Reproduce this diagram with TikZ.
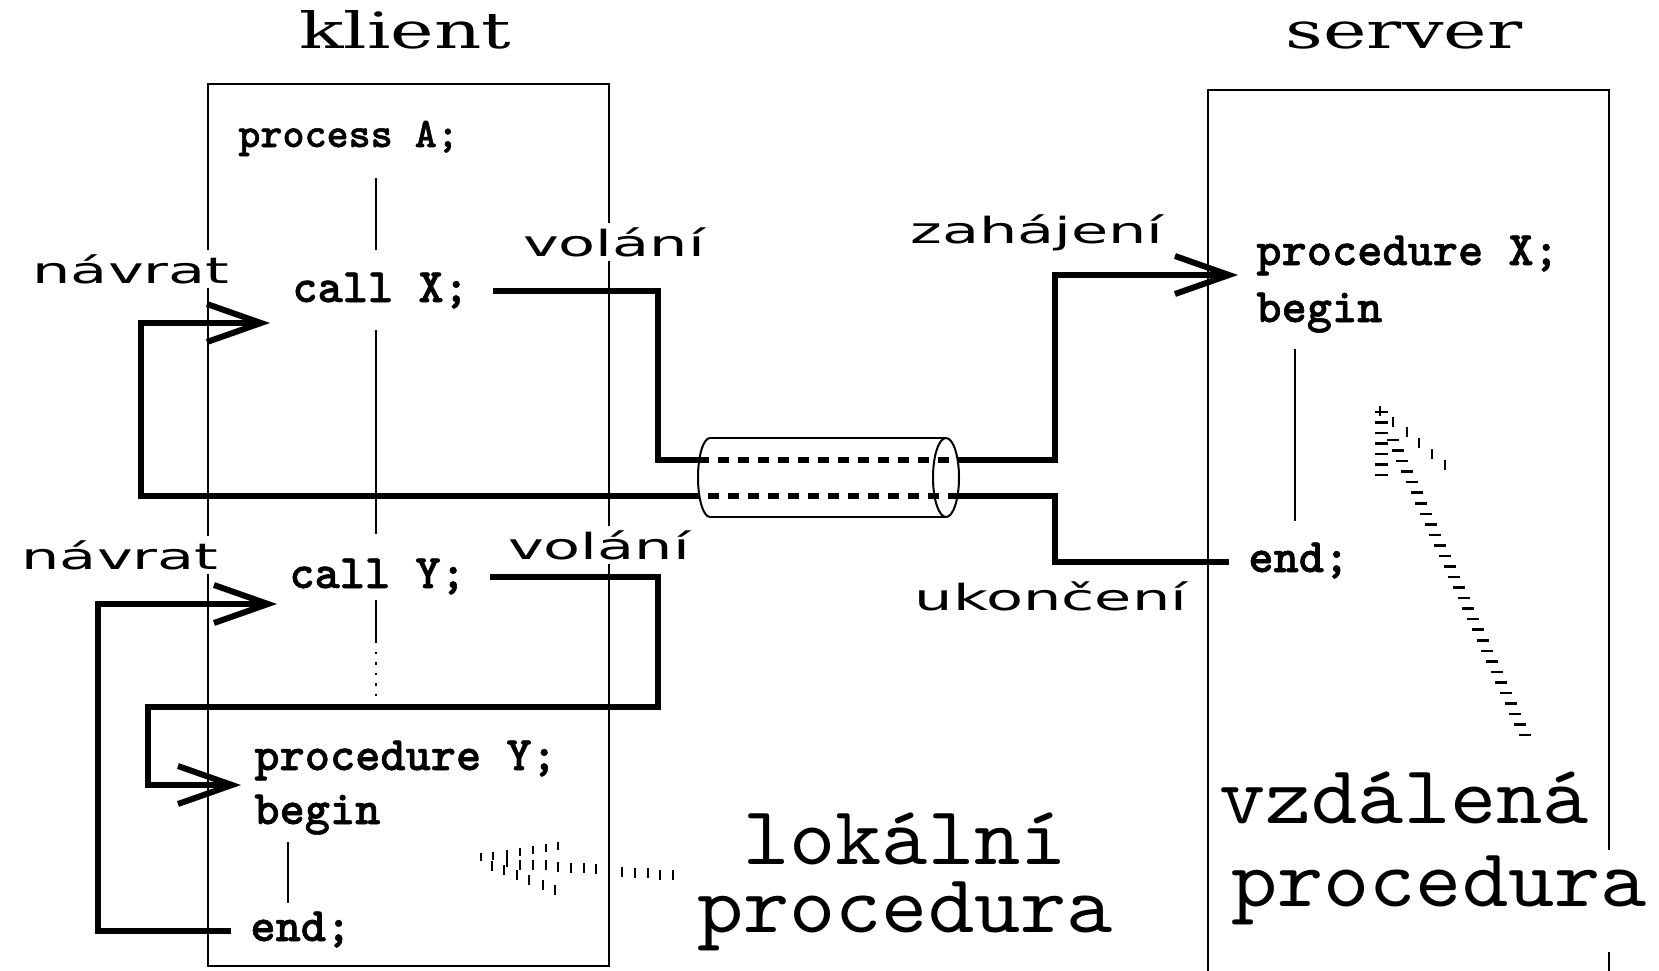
\documentclass[tikz,border=0pt]{standalone}
\usepackage{fontspec}
\usetikzlibrary{arrows.meta}
\newfontfamily\codefont{lmmonolt10-bold.otf}[FakeBold=1.2]
\newfontfamily\bigfont{lmmono10-regular.otf}[FakeStretch=1.06]
\newfontfamily\labfont{DejaVu Sans}[FakeStretch=1.68]
\newfontfamily\titlefont{DejaVu Serif}[FakeStretch=1.47]
\tikzset{
  boxline/.style={line width=1.2pt},
  thinline/.style={line width=1pt},
  flow/.style={line width=3pt, line cap=butt, line join=miter},
  flowarrow/.style={flow, -{Straight Barb[length=27pt,width=19pt]}},
  tube/.style={line width=2.6pt, dash pattern=on 5.5pt off 4.5pt},
  code/.style={font=\codefont\fontsize{24}{26}\selectfont, inner sep=0pt, anchor=base west},
  lab/.style={font=\labfont\fontsize{18}{20}\selectfont, fill=white, inner sep=2pt, anchor=base},
  titletext/.style={font=\titlefont\fontsize{25}{28}\selectfont, inner sep=0pt, anchor=base},
  bigtext/.style={font=\bigfont\fontsize{41.5}{34}\selectfont, inner sep=1pt, anchor=base},
  vtick/.style={line width=1.25pt},
}
\begin{document}
\begin{tikzpicture}[x=0.5pt,y=-0.5pt]
\useasboundingbox (0,0) rectangle (1659,970);

% boxes
\draw[boxline] (208,84) rectangle (609,966);
\draw[boxline] (1208,975) -- (1208,90) -- (1609,90) -- (1609,975);

% thin vertical lines
\draw[thinline] (376,178) -- (376,250);
\draw[thinline] (376,330) -- (376,534);
\draw[thinline] (376,600) -- (376,643);
\draw[thinline, dash pattern=on 1.2pt off 4pt] (376,652) -- (376,696);
\draw[thinline] (288,842) -- (288,903);
\draw[thinline] (1295,349) -- (1295,521);

% titles
\node[titletext] (klient) at (405,48) {klient};
\node[titletext] (server) at (1404,48) {server};

% labels
\node[lab] (navrat1) at (131,283) {návrat};
\node[lab] (navrat2) at (120,569) {návrat};
\node[lab] (volani1) at (614,256) {volání};
\node[lab] (volani2) at (599,559) {volání};
\node[lab] (zahajeni) at (1037,243) {zahájení};
\node[lab] (ukonceni) at (1051,610) {ukončení};

% code
\node[code, font=\codefont\fontsize{21}{23}\selectfont] (procA) at (238,147) {process A;};
\node[code] (callX) at (292,302) {call X;};
\node[code] (callY) at (289,588) {call Y;};
\node[code] (procY) at (254,770) {procedure Y;};
\node[code] (beginY) at (254,824) {begin};
\node[code] (endY) at (250,941) {end;};
\node[code] (procX) at (1256,265) {procedure X;};
\node[code] (beginX) at (1256,322) {begin};
\node[code] (endX) at (1248,572) {end;};

% connector coordinates
\coordinate (a0) at (493,291);
\coordinate (a1) at (658,291);
\coordinate (a2) at (658,460);
\coordinate (tl1) at (698,460);
\coordinate (tr1) at (959,460);
\coordinate (a3) at (1055,460);
\coordinate (a4) at (1055,275);
\coordinate (a5) at (1238,275);

\coordinate (b0) at (1229,562);
\coordinate (b1) at (1055,562);
\coordinate (b2) at (1055,496);
\coordinate (tr2) at (959,496);
\coordinate (tl2) at (698,496);
\coordinate (b3) at (141,496);
\coordinate (b4) at (141,323);
\coordinate (b5) at (270,323);

\coordinate (c0) at (490,577);
\coordinate (c1) at (658,577);
\coordinate (c2) at (658,707);
\coordinate (c3) at (148,707);
\coordinate (c4) at (148,785);
\coordinate (c5) at (241,785);

\coordinate (d0) at (231,931);
\coordinate (d1) at (98,931);
\coordinate (d2) at (98,604);
\coordinate (d3) at (277,604);

% cylinder (tube)
\draw[thinline] (710,438) -- (946,438);
\draw[thinline] (710,517) -- (946,517);
\draw[thinline] (710,438) arc[start angle=270, end angle=90, x radius=12, y radius=39.5];
\draw[thinline] (946,477.5) ellipse[x radius=13, y radius=39.5];

% call X -> procedure X
\draw[flow] (a0) -- (a1) -- (a2) -- (tl1);
\draw[tube] (tl1) -- (tr1);
\draw[flowarrow] (tr1) -- (a3) -- (a4) -- (a5);

% end (server) -> call X
\draw[flow] (b0) -- (b1) -- (b2) -- (tr2);
\draw[tube] (tr2) -- (tl2);
\draw[flowarrow] (tl2) -- (b3) -- (b4) -- (b5);

% call Y -> procedure Y
\draw[flowarrow] (c0) -- (c1) -- (c2) -- (c3) -- (c4) -- (c5);
% end Y -> call Y
\draw[flowarrow] (d0) -- (d1) -- (d2) -- (d3);

% big texts
\node[bigtext, align=center] (lok) at (905,932) {lokální\\procedura};
\node[bigtext] (vzd1) at (1404,823) {vzdálená};
\node[bigtext, fill=white, text height=27pt, text depth=22pt] (vzd2) at (1439,906) {procedura};

% hatched pointer, local
\foreach \x/\y in {481/857,493/856,507/854,520/852,533/850,546/848,558/846}
  \draw[vtick] (\x,\y) ++(0,-4) -- ++(0,8);
\foreach \x/\y in {507/862,520/865,533/865,546/865,558/867,571/868,584/868,596/869,622/872,635/873,648/873,660/875,673/875}
  \draw[vtick] (\x,\y) ++(0,-5) -- ++(0,10);
\foreach \x/\y in {492/866,504/870,517/875,529/880,543/885,555/890}
  \draw[vtick] (\x,\y) ++(0,-5) -- ++(0,10);

% hatched pointer, remote
\foreach \y in {412,422.5,433,443.5,454,464.5,475}
  \draw[vtick] (1375,\y) -- (1388,\y);
\foreach \x/\y in {1380/411,1393/422,1407/432,1419/443,1432/454,1445/465}
  \draw[vtick] (\x,\y) ++(0,-5) -- ++(0,10);
\foreach \i in {0,...,28}
  \draw[vtick] ({1387+4.71*\i},{440+10.54*\i}) -- ++(12,0);
\end{tikzpicture}
\end{document}
